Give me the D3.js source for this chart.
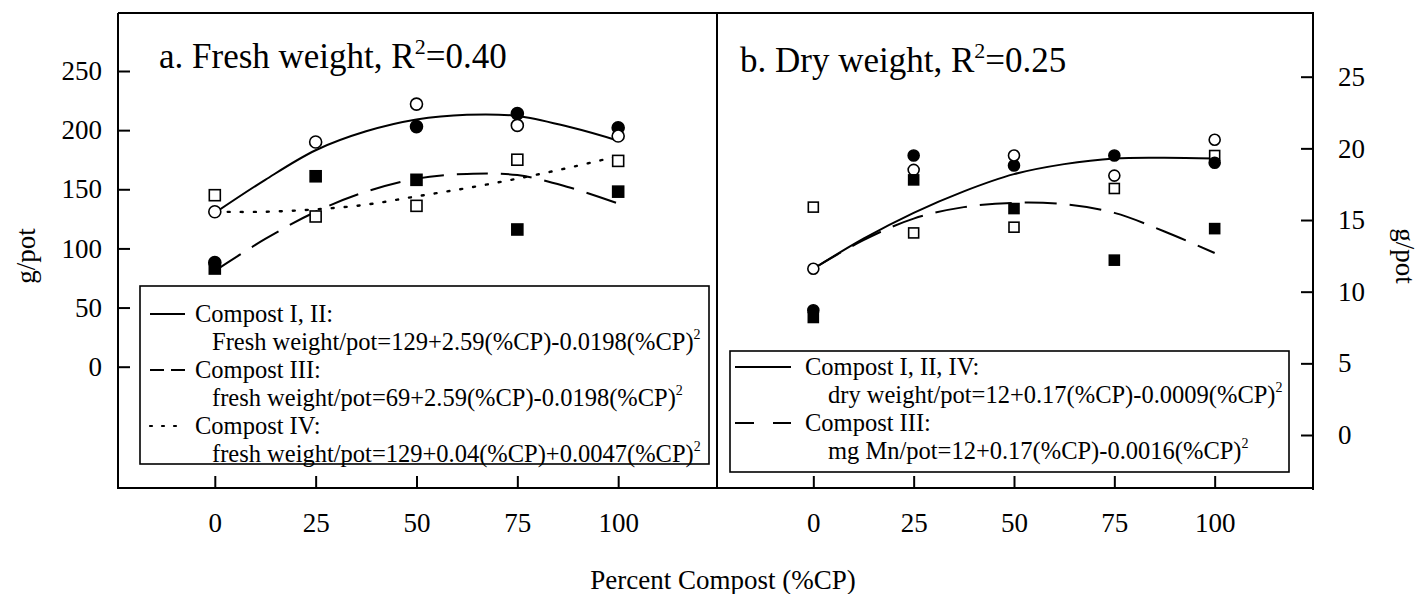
<!DOCTYPE html>
<html>
<head>
<meta charset="utf-8">
<script src="https://cdn.jsdelivr.net/npm/d3@7"></script>
<style>
  body { margin: 0; background: #fff; }
  svg { display: block; font-family: "Liberation Serif", "Times New Roman", serif; }
  .tick line { stroke: #000; stroke-width: 2; }
  .tick text { font-family: "Liberation Serif", "Times New Roman", serif; font-size: 27px; fill: #000; }
</style>
</head>
<body>
<div id="chart"></div>
<script>
// x values (percent compost) and tick labels
const pctCP = [0, 25, 50, 75, 100];
const freshTicks = [0, 50, 100, 150, 200, 250];
const dryTicks = [0, 5, 10, 15, 20, 25];

// a. fresh weight, g/pot
const freshI   = [88, null, 203, 214, 202];   // filled circle
const freshII  = [131, 190, 222, 204, 195];   // open circle
const freshIII = [83, 161, 158, 116, 148];    // filled square
const freshIV  = [145, 127, 136, 175, 174];   // open square

// b. dry weight, g/pot
const dryI   = [8.7, 19.5, 18.8, 19.5, 19.0];
const dryII  = [11.6, 18.5, 19.5, 18.1, 20.6];
const dryIII = [8.2, 17.8, 15.8, 12.2, 14.4];
const dryIV  = [15.9, 14.1, 14.5, 17.2, 19.5];

// fitted curves, sampled off the figure
const fitX = [0, 12.5, 25, 37.5, 50, 62.5, 75, 87.5, 100];
const fitFreshI_II = [130, 158, 183, 199, 209, 213, 212, 203, 191];
const fitFreshIII  = [81, 108, 131, 148, 159, 163, 162, 152, 138];
const fitFreshIV   = [131, 131, 133, 137, 144, 151, 159, 168, 178];
const fitDryI_II_IV = [11.6, 13.7, 15.5, 17.0, 18.2, 18.9, 19.3, 19.35, 19.3];
const fitDryIII     = [11.6, 13.6, 15.1, 15.9, 16.2, 16.1, 15.5, 14.2, 12.7];

const legendA = [
  {dash: null, head: "Compost I, II:", eq: "Fresh weight/pot=129+2.59(%CP)-0.0198(%CP)"},
  {dash: "14,7", head: "Compost III:", eq: "fresh weight/pot=69+2.59(%CP)-0.0198(%CP)"},
  {dash: "2,10", head: "Compost IV:", eq: "fresh weight/pot=129+0.04(%CP)+0.0047(%CP)"}
];
const legendB = [
  {dash: null, head: "Compost I, II, IV:", eq: "dry weight/pot=12+0.17(%CP)-0.0009(%CP)"},
  {dash: "19,19", head: "Compost III:", eq: "mg Mn/pot=12+0.17(%CP)-0.0016(%CP)"}
];

const W = 1421, H = 594;
const svg = d3.select('#chart').append('svg').attr('width', W).attr('height', H);

const frameTop = 13, frameBottom = 488, frameLeft = 118, frameMid = 717, frameRight = 1313;

const xA = d3.scaleLinear().domain([-24, 124.5]).range([frameLeft, frameMid]);
const xB = d3.scaleLinear().domain([-24, 124.5]).range([frameMid, frameRight]);
const yA = d3.scaleLinear().domain([0, 250]).range([366.7, 71]);
const yB = d3.scaleLinear().domain([0, 25]).range([435, 76.7]);

// axes (ticks point inward)
function clean(g) {
  g.attr('font-family', null).attr('font-size', null);
  g.select('.domain').remove();
}
svg.append('g').attr('transform', `translate(${frameLeft},0)`)
  .call(d3.axisLeft(yA).tickValues(freshTicks).tickSize(-12).tickSizeOuter(0).tickPadding(16))
  .call(clean);
svg.append('g').attr('transform', `translate(${frameRight},0)`)
  .call(d3.axisRight(yB).tickValues(dryTicks).tickSize(-12).tickSizeOuter(0).tickPadding(25))
  .call(clean);
[xA, xB].forEach(x => {
  svg.append('g').attr('transform', `translate(0,${frameBottom})`)
    .call(d3.axisBottom(x).tickValues(pctCP).tickSize(-12).tickSizeOuter(0).tickPadding(25))
    .call(clean);
});

// frame
svg.append('path')
  .attr('d', `M${frameLeft},${frameTop}H${frameRight}V${frameBottom + 2}M${frameLeft},${frameTop}V${frameBottom}H${frameRight}M${frameMid},${frameTop}V${frameBottom}`)
  .attr('stroke', '#000').attr('stroke-width', 2).attr('fill', 'none');

function panel(x, y, series, fits) {
  const g = svg.append('g');
  const line = d3.line().x(d => x(d[0])).y(d => y(d[1])).curve(d3.curveCatmullRom);
  fits.forEach(f => {
    const dotted = f.dash === '2,11';
    g.append('path')
      .datum(fitX.map((v, i) => [v, f.vals[i]]))
      .attr('d', line)
      .attr('fill', 'none')
      .attr('stroke', '#000')
      .attr('stroke-width', dotted ? 2.4 : 2)
      .attr('stroke-linecap', dotted ? 'round' : 'butt')
      .attr('stroke-dasharray', f.dash);
  });
  series.forEach(s => {
    const pts = pctCP.map((v, i) => [v, s.vals[i]]).filter(d => d[1] != null);
    const sel = g.selectAll(null).data(pts).enter();
    if (s.shape === 'circle') {
      sel.append('circle')
        .attr('cx', d => x(d[0])).attr('cy', d => y(d[1])).attr('r', s.size / 2)
        .attr('fill', s.filled ? '#000' : '#fff').attr('stroke', '#000').attr('stroke-width', 1.6);
    } else {
      sel.append('rect')
        .attr('x', d => x(d[0]) - s.size / 2).attr('y', d => y(d[1]) - s.size / 2)
        .attr('width', s.size).attr('height', s.size)
        .attr('fill', s.filled ? '#000' : '#fff').attr('stroke', '#000').attr('stroke-width', 1.6);
    }
  });
}

panel(xA, yA, [
  {vals: freshIV, shape: 'square', filled: false, size: 11},
  {vals: freshI, shape: 'circle', filled: true, size: 12},
  {vals: freshII, shape: 'circle', filled: false, size: 12},
  {vals: freshIII, shape: 'square', filled: true, size: 11}
], [
  {vals: fitFreshI_II, dash: null},
  {vals: fitFreshIII, dash: '31,13'},
  {vals: fitFreshIV, dash: '2,11'}
]);

panel(xB, yB, [
  {vals: dryIV, shape: 'square', filled: false, size: 10},
  {vals: dryI, shape: 'circle', filled: true, size: 11},
  {vals: dryII, shape: 'circle', filled: false, size: 11},
  {vals: dryIII, shape: 'square', filled: true, size: 10}
], [
  {vals: fitDryI_II_IV, dash: null},
  {vals: fitDryIII, dash: '32,13'}
]);

// panel titles
function title(xpos, ypos, lead, r2) {
  const t = svg.append('text').attr('x', xpos).attr('y', ypos).attr('font-size', 35);
  t.append('tspan').text(lead + 'R');
  t.append('tspan').attr('font-size', 22).attr('dy', -14).text('2');
  t.append('tspan').attr('dy', 14).text('=' + r2);
}
title(159, 68, 'a. Fresh weight, ', '0.40');
title(740, 72, 'b. Dry weight, ', '0.25');

// legends
function legend(box, items, lineX, headX, eqX, baseline0, step) {
  svg.append('rect').attr('x', box[0]).attr('y', box[1]).attr('width', box[2] - box[0]).attr('height', box[3] - box[1])
    .attr('fill', '#fff').attr('stroke', '#000').attr('stroke-width', 1.6);
  items.forEach((it, i) => {
    const yb = baseline0 + step * 2 * i;
    const dotted = it.dash === '2,10';
    svg.append('line').attr('x1', lineX[0]).attr('x2', lineX[1]).attr('y1', yb - 8).attr('y2', yb - 8)
      .attr('stroke', '#000').attr('stroke-width', dotted ? 2.2 : 1.8)
      .attr('stroke-linecap', dotted ? 'round' : 'butt')
      .attr('stroke-dasharray', it.dash);
    svg.append('text').attr('x', headX).attr('y', yb).attr('font-size', 24.5).text(it.head);
    const t = svg.append('text').attr('x', eqX).attr('y', yb + step).attr('font-size', 24.5);
    t.append('tspan').text(it.eq);
    t.append('tspan').attr('font-size', 14).attr('dy', -11).text('2');
  });
}
legend([140, 286, 709, 464], legendA, [150, 185], 195, 212, 322, 28);
legend([730, 351, 1289, 472], legendB, [735, 791], 805, 828, 375, 28);

// axis titles
svg.append('text').attr('transform', 'translate(35,256) rotate(-90)')
  .attr('text-anchor', 'middle').attr('font-size', 27).text('g/pot');
svg.append('text').attr('transform', 'translate(1396,256) rotate(90)')
  .attr('text-anchor', 'middle').attr('font-size', 27).text('g/pot');
svg.append('text').attr('x', 723).attr('y', 589)
  .attr('text-anchor', 'middle').attr('font-size', 27).text('Percent Compost (%CP)');
</script>
</body>
</html>
